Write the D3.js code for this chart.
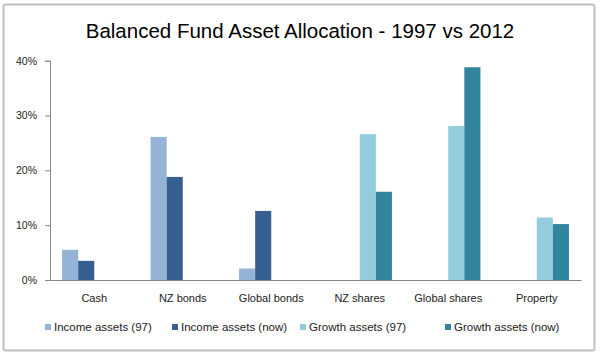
<!DOCTYPE html>
<html>
<head>
<meta charset="utf-8">
<script src="https://cdn.jsdelivr.net/npm/d3@7/dist/d3.min.js"></script>
<style>
  html, body { margin: 0; padding: 0; background: #fff; }
  svg { display: block; }
  text { font-family: "Liberation Sans", Arial, sans-serif; }
</style>
</head>
<body>
<svg id="chart" width="600" height="354"></svg>
<script>
// ---- data ----
const categories = ["Cash", "NZ bonds", "Global bonds", "NZ shares", "Global shares", "Property"];
const seriesNames = ["Income assets (97)", "Income assets (now)", "Growth assets (97)", "Growth assets (now)"];
const incomeAssets97 = [5.5, 26.1, 2.1, 0, 0, 0];
const incomeAssetsNow = [3.5, 18.8, 12.6, 0, 0, 0];
const growthAssets97 = [0, 0, 0, 26.6, 28.1, 11.4];
const growthAssetsNow = [0, 0, 0, 16.1, 38.8, 10.2];
const yTicks = [0, 10, 20, 30, 40];
const colors = ["#95b3d7", "#376092", "#93cddd", "#31859c"];

const seriesValues = [incomeAssets97, incomeAssetsNow, growthAssets97, growthAssetsNow];

const svg = d3.select("#chart");

// border
svg.append("rect")
  .attr("x", 3.5).attr("y", 4.5).attr("width", 591).attr("height", 346)
  .attr("rx", 2)
  .attr("fill", "#fff").attr("stroke", "#bfbfbf").attr("stroke-width", 2);

// title
svg.append("text")
  .attr("x", 300).attr("y", 38)
  .attr("text-anchor", "middle")
  .attr("font-size", 20.5)
  .attr("fill", "#000")
  .text("Balanced Fund Asset Allocation - 1997 vs 2012");

const x0 = d3.scaleBand().domain(categories).range([50, 581]).paddingInner(0).paddingOuter(0);
const x1 = d3.scaleBand().domain(seriesNames).range([0, x0.bandwidth()]).paddingInner(0).paddingOuter(0.75);
const y = d3.scaleLinear().domain([0, 40]).range([280, 60.7]);

// y axis
const yAxis = d3.axisLeft(y).tickValues(yTicks).tickSize(5).tickPadding(8).tickFormat(d => d + "%");
const gy = svg.append("g").attr("transform", "translate(50,0)").call(yAxis);
gy.select(".domain").attr("stroke", "#868686");
gy.selectAll(".tick line").attr("stroke", "#868686");
gy.selectAll(".tick text").attr("font-size", 10.5).attr("fill", "#222").attr("font-family", "Liberation Sans, Arial, sans-serif");

// bars
const barData = [];
seriesValues.forEach((vals, si) => {
  vals.forEach((v, ci) => {
    if (v > 0) barData.push({ cat: categories[ci], series: seriesNames[si], value: v, si });
  });
});
svg.append("g").selectAll("rect").data(barData).join("rect")
  .attr("x", d => x0(d.cat) + x1(d.series))
  .attr("y", d => y(d.value))
  .attr("width", x1.bandwidth())
  .attr("height", d => y(0) - y(d.value))
  .attr("fill", d => colors[d.si]);

// x axis
const xAxis = d3.axisBottom(x0).tickSize(0).tickPadding(14);
const gx = svg.append("g").attr("transform", "translate(0,280)").call(xAxis);
gx.select(".domain").attr("stroke", "#868686");
gx.selectAll(".tick text").attr("font-size", 11).attr("fill", "#222").attr("font-family", "Liberation Sans, Arial, sans-serif");

// legend
const legendX = [45, 172, 300, 445];
const lg = svg.append("g");
seriesNames.forEach((name, i) => {
  const g = lg.append("g").attr("transform", `translate(${legendX[i]},0)`);
  g.append("rect").attr("x", 0).attr("y", 324).attr("width", 6).attr("height", 6).attr("fill", colors[i]);
  g.append("text").attr("x", 9).attr("y", 331).attr("font-size", 11.5).attr("fill", "#222").text(name);
});
</script>
</body>
</html>
